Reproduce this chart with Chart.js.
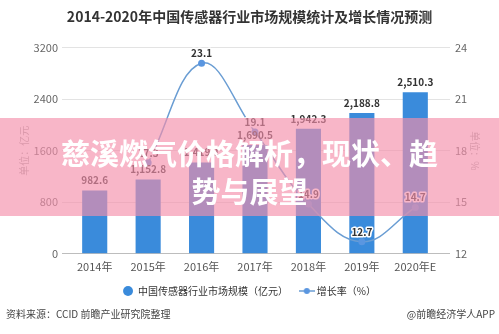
<!DOCTYPE html>
<html>
<head>
<meta charset="utf-8">
<script src="https://cdn.jsdelivr.net/npm/chart.js@4/dist/chart.umd.min.js"></script>
<style>
  html, body { margin: 0; padding: 0; background: #fff; }
  #wrap { position: relative; width: 499px; height: 334px; overflow: hidden;
    font-family: "Noto Sans CJK SC", "Noto Sans", sans-serif; }
  #chart { position: absolute; left: 0; top: 0; }
  .source { position: absolute; top: 306px; font-size: 10px; color: #444; line-height: 16px; }
  .band { position: absolute; left: 0; top: 118px; width: 499px; height: 98px;
    background: rgba(245, 143, 171, 0.65); }
  .band-text { position: absolute; left: 0; top: 133px; width: 499px; text-align: center;
    color: #fff; font-weight: 700; font-size: 29px; line-height: 38px; }
</style>
</head>
<body>
<div id="wrap">
  <canvas id="chart" width="499" height="334"></canvas>
  <div class="source" style="left:6px;">资料来源：CCID 前瞻产业研究院整理</div>
  <div class="source" style="right:4px;">@前瞻经济学人APP</div>
  <div class="band"></div>
  <div class="band-text">慈溪燃气价格解析，现状、趋<br>势与展望</div>
</div>
<script>
// ---- data ----
const years = ['2014年', '2015年', '2016年', '2017年', '2018年', '2019年', '2020年E'];
const marketSize = [982.6, 1152.8, 1419.1, 1690.5, 1942.3, 2188.8, 2510.3]; // 亿元
const growthRate = [null, 17.3, 23.1, 19.1, 14.9, 12.7, 14.7];             // %
const sizeTicks = [0, 800, 1600, 2400, 3200];
const rateTicks = [12, 15, 18, 21, 24];

const BAR = '#3a8bdb';
const LINE = '#6a9dd3';
const DOT = '#5a96e0';
const GRID = '#e3e3e3';
const AXIS = '#bdbdbd';
const FONT = '"Noto Sans CJK SC", "Noto Sans", sans-serif';

// small icon for the growth legend entry: line with a dot
const lineIcon = document.createElement('canvas');
lineIcon.width = 16; lineIcon.height = 8;
(() => {
  const c = lineIcon.getContext('2d');
  c.strokeStyle = LINE; c.lineWidth = 1.5;
  c.beginPath(); c.moveTo(0, 4); c.lineTo(16, 4); c.stroke();
  c.fillStyle = DOT;
  c.beginPath(); c.arc(8, 4, 3, 0, Math.PI * 2); c.fill();
})();

const fmt = v => v.toLocaleString('en-US', { minimumFractionDigits: 1, maximumFractionDigits: 1 });

// value labels above bars and points
const valueLabels = {
  id: 'valueLabels',
  afterDatasetsDraw(chart) {
    const ctx = chart.ctx;
    ctx.save();
    ctx.textAlign = 'center';
    ctx.textBaseline = 'middle';
    ctx.font = 'bold 10px ' + FONT;
    chart.getDatasetMeta(0).data.forEach((bar, i) => {
      ctx.fillStyle = '#333';
      ctx.fillText(fmt(marketSize[i]), bar.x, bar.y - 10);
    });
    chart.getDatasetMeta(1).data.forEach((pt, i) => {
      if (growthRate[i] == null) return;
      const t = growthRate[i].toFixed(1);
      ctx.lineWidth = 3;
      ctx.strokeStyle = '#fff';
      ctx.lineJoin = 'round';
      ctx.strokeText(t, pt.x, pt.y - 10);
      ctx.fillStyle = '#333';
      ctx.fillText(t, pt.x, pt.y - 10);
    });
    ctx.restore();
  }
};

const gridColor = c => (c.tick && c.tick.value === c.scale.min ? AXIS : GRID);

new Chart(document.getElementById('chart'), {
  data: {
    labels: years,
    datasets: [
      {
        type: 'bar',
        label: '中国传感器行业市场规模（亿元）',
        data: marketSize,
        backgroundColor: BAR,
        barPercentage: 0.47,
        categoryPercentage: 1,
        yAxisID: 'y',
        order: 1
      },
      {
        type: 'line',
        label: '增长率（%）',
        data: growthRate,
        borderColor: LINE,
        borderWidth: 1.5,
        tension: 0.4,
        pointRadius: 3.5,
        pointBackgroundColor: DOT,
        pointBorderWidth: 0,
        yAxisID: 'y1',
        order: 0
      }
    ]
  },
  options: {
    responsive: false,
    animation: false,
    layout: { padding: { top: 0, bottom: 28, left: 0, right: 0 } },
    plugins: {
      title: {
        display: true,
        text: '2014-2020年中国传感器行业市场规模统计及增长情况预测',
        color: '#333',
        font: { family: FONT, size: 14, weight: 'bold' },
        padding: { top: 8, bottom: 23 }
      },
      legend: {
        position: 'bottom',
        labels: {
          usePointStyle: true,
          boxHeight: 7,
          padding: 7,
          color: '#333',
          font: { family: FONT, size: 10 },
          generateLabels(chart) {
            const items = Chart.defaults.plugins.legend.labels.generateLabels(chart);
            items.sort((a, b) => a.datasetIndex - b.datasetIndex);
            items.forEach(it => {
              if (it.datasetIndex === 0) {
                it.pointStyle = 'circle';
                it.fillStyle = BAR;
                it.strokeStyle = BAR;
                it.lineWidth = 0;
                it.text = it.text + '   ';
              } else {
                it.pointStyle = lineIcon;
              }
            });
            return items;
          }
        }
      },
      tooltip: { enabled: false }
    },
    scales: {
      x: {
        offset: true,
        grid: { display: true, drawOnChartArea: false, drawTicks: false },
        border: { color: AXIS },
        ticks: { color: '#555', padding: 6, font: { family: FONT, size: 11 } }
      },
      y: {
        position: 'left',
        min: sizeTicks[0],
        max: sizeTicks[sizeTicks.length - 1],
        afterBuildTicks: s => { s.ticks = sizeTicks.map(v => ({ value: v })); },
        afterFit: s => { s.width = 68; },
        grid: { color: gridColor, tickColor: gridColor, tickLength: 6 },
        border: { display: false },
        ticks: { color: '#666', padding: 4, font: { family: FONT, size: 11 }, callback: v => String(v) },
        title: {
          display: true,
          text: '单位：亿元',
          color: '#aaa',
          font: { family: FONT, size: 10 },
          padding: { top: 18, bottom: 0 }
        }
      },
      y1: {
        position: 'right',
        min: rateTicks[0],
        max: rateTicks[rateTicks.length - 1],
        afterBuildTicks: s => { s.ticks = rateTicks.map(v => ({ value: v })); },
        afterFit: s => { s.width = 57; },
        grid: { drawOnChartArea: false, tickColor: gridColor, tickLength: 8 },
        border: { display: false },
        ticks: { color: '#666', padding: 5, font: { family: FONT, size: 11 }, callback: v => String(v) },
        title: {
          display: true,
          text: '单位：%',
          color: '#aaa',
          font: { family: FONT, size: 10 },
          padding: { top: 18, bottom: 0 }
        }
      }
    }
  },
  plugins: [valueLabels]
});
</script>
</body>
</html>
